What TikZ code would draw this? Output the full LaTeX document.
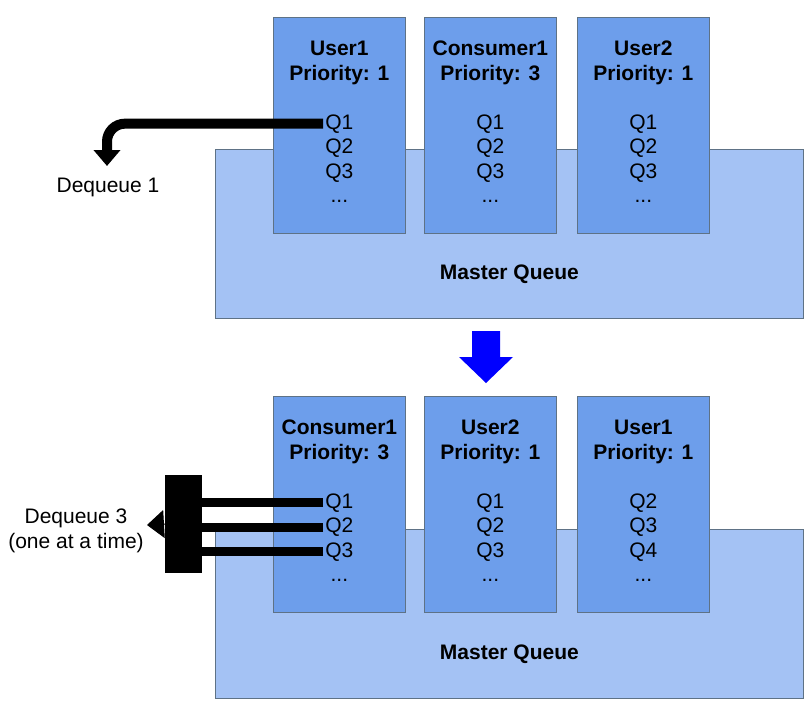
\documentclass[tikz,border=0pt]{standalone}
\usepackage{fontspec}
\setmainfont{Liberation Sans}
\usetikzlibrary{arrows.meta}
\definecolor{colblue}{HTML}{6D9EEB}
\definecolor{mastblue}{HTML}{A4C2F4}
\definecolor{edgegray}{HTML}{5E7286}
\begin{document}
\begin{tikzpicture}[x=1pt,y=-1pt,
  master/.style={draw=edgegray,fill=mastblue,line width=0.8pt,minimum width=588pt,minimum height=169pt,anchor=north west,inner sep=0pt},
  column/.style={draw=edgegray,fill=colblue,line width=0.8pt,minimum width=132pt,minimum height=216pt,anchor=north west,inner sep=0pt},
  txt/.style={anchor=base,inner sep=2pt,font=\fontsize{21}{25}\selectfont},
  head/.style={txt,font=\fontsize{21}{25}\selectfont\bfseries},
  pipe/.style={line width=10pt}]
  \useasboundingbox (0,0) rectangle (804,707);
  % before
  \node[master] (mqA) at (215,149) {};
  \node[head] (mqAlabel) at ([yshift=39pt]mqA.south) {Master Queue};
  \foreach \x/\nm/\who/\prio/\a/\b/\c in {273/uA/User1/1/1/2/3, 424/cA/Consumer1/3/1/2/3, 577/vA/User2/1/1/2/3}{
    \node[column] (\nm) at (\x,17) {};
    \node[head] (\nm-who)  at ([yshift=-38pt]\nm.north) {\who};
    \node[head] (\nm-prio) at ([yshift=-63pt]\nm.north) {Priority: \prio};
    \node[txt]  (\nm-q1)   at ([yshift=-112pt]\nm.north) {Q\a};
    \node[txt]  (\nm-q2)   at ([yshift=-136.5pt]\nm.north) {Q\b};
    \node[txt]  (\nm-q3)   at ([yshift=-161pt]\nm.north) {Q\c};
    \node[txt]  (\nm-dots) at ([yshift=-185.5pt]\nm.north) {...};
  }
  \coordinate (deqA) at (107,166);
  \draw[pipe,rounded corners=18pt,-{Triangle[width=26pt,length=16pt]}] (uA-q1.west) -| (deqA);
  \node[txt] (deqAlabel) at (108,192) {Dequeue 1};
  % step
  \fill[blue] (472,331) -- (500,331) -- (500,357) -- (513,357) -- (486,383) -- (459,357) -- (472,357) -- cycle;
  % after
  \node[master] (mqB) at (215,529) {};
  \node[head] (mqBlabel) at ([yshift=39pt]mqB.south) {Master Queue};
  \foreach \x/\nm/\who/\prio/\a/\b/\c in {273/cB/Consumer1/3/1/2/3, 424/vB/User2/1/1/2/3, 577/uB/User1/1/2/3/4}{
    \node[column] (\nm) at (\x,396) {};
    \node[head] (\nm-who)  at ([yshift=-38pt]\nm.north) {\who};
    \node[head] (\nm-prio) at ([yshift=-63pt]\nm.north) {Priority: \prio};
    \node[txt]  (\nm-q1)   at ([yshift=-112pt]\nm.north) {Q\a};
    \node[txt]  (\nm-q2)   at ([yshift=-136.5pt]\nm.north) {Q\b};
    \node[txt]  (\nm-q3)   at ([yshift=-161pt]\nm.north) {Q\c};
    \node[txt]  (\nm-dots) at ([yshift=-185.5pt]\nm.north) {...};
  }
  \node[fill=black,minimum width=37pt,minimum height=98pt,inner sep=0pt] (bar) at (183.5,524) {};
  \foreach \k in {1,2,3}
    \draw[pipe,line width=9pt] (cB-q\k.west) -- (cB-q\k.west -| bar.east);
  \coordinate (deqB) at (147,525);
  \draw[line width=1pt,-{Triangle[width=28pt,length=17pt]}] (bar.west) -- (deqB);
  \node[txt,anchor=center,align=center] (deqBlabel) at (76,531) {Dequeue 3\\(one at a time)};
\end{tikzpicture}
\end{document}
